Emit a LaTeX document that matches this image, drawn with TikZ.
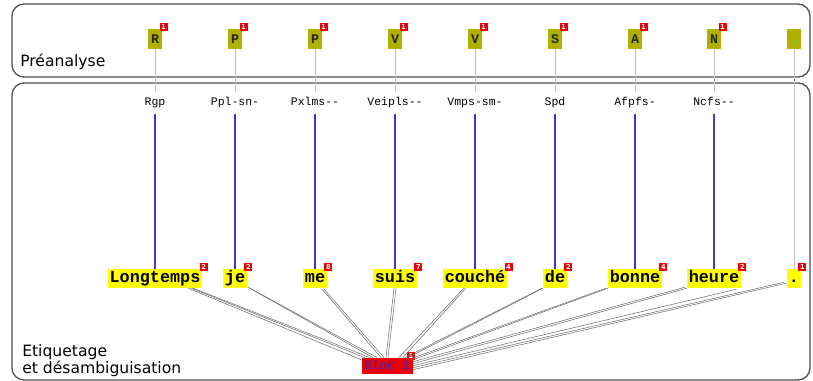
\documentclass[tikz,border=0pt]{standalone}
\usepackage{fontspec}
\setmainfont{DejaVu Sans}
\newfontfamily\monofont{Liberation Mono}
\usetikzlibrary{calc}
\definecolor{tagolive}{RGB}{176,176,0}
\definecolor{panelline}{RGB}{80,80,80}
\definecolor{uplinegray}{RGB}{195,195,195}
\definecolor{linkblue}{RGB}{60,60,200}
\definecolor{fangray}{RGB}{110,110,110}
\definecolor{wordyellow}{RGB}{255,255,0}
\definecolor{badgered}{RGB}{235,0,0}
\definecolor{bloctext}{RGB}{40,40,220}
\begin{document}
\begin{tikzpicture}[x=0.75pt,y=-0.75pt,
  panel/.style={draw=panelline,line width=1pt,rounded corners=9pt},
  tagbox/.style={fill=tagolive,minimum width=10.5pt,minimum height=15pt,inner sep=0pt,text height=6.5pt,text depth=0pt,text=black!85,font=\monofont\bfseries\fontsize{10}{10}\selectfont},
  badge/.style={fill=badgered,text=white,minimum size=6pt,inner sep=0pt,anchor=south west,font=\bfseries\fontsize{5}{5}\selectfont},
  codelab/.style={minimum height=15.75pt,inner sep=0pt,text height=6pt,text depth=1.8pt,font=\monofont\fontsize{8.6}{9}\selectfont},
  word/.style={fill=wordyellow,minimum height=14.25pt,inner xsep=1.3pt,inner ysep=0pt,text height=8.5pt,text depth=2.5pt,font=\monofont\bfseries\fontsize{12.6}{13}\selectfont},
  upline/.style={draw=uplinegray,line width=0.75pt},
  bluelink/.style={draw=linkblue,line width=0.85pt},
  fanline/.style={draw=fangray,line width=0.4pt},
  panellabel/.style={inner sep=0pt,align=left,font=\fontsize{11.7}{11.4}\selectfont},
  blocbox/.style={fill=badgered,minimum width=38.25pt,minimum height=12pt,inner sep=0pt,text height=6.5pt,text depth=1.5pt,text=bloctext,font=\monofont\fontsize{9.4}{10}\selectfont}
]
\useasboundingbox (0,0) rectangle (813,381);

% panels
\draw[panel] (12,4) rectangle (810,77);
\draw[panel] (12,83) rectangle (810,380);
\node[panellabel,anchor=base west] (pre) at (20,67) {Préanalyse};
\node[panellabel,anchor=south west] (eti) at (22,377.5) {Etiquetage\\et désambiguisation};

% columns
\foreach \i/\x/\t/\l/\w/\n in {1/155/R/Rgp/Longtemps/2, 2/235/P/Ppl-sn-/je/2, 3/315/P/Pxlms--/me/8, 4/395/V/Veipls--/suis/7, 5/475/V/Vmps-sm-/couché/4, 6/555/S/Spd/de/2, 7/635/A/Afpfs-/bonne/4, 8/714/N/Ncfs--/heure/2}{
  \node[tagbox] (t\i) at (\x,39) {\t};
  \node[badge] (tb\i) at ($(t\i.north east)+(-3,3)$) {1};
  \node[codelab] (l\i) at (\x,103) {\l};
  \node[word] (w\i) at (\x,278.5) {\w};
  \node[badge] (wb\i) at ($(w\i.north east)+(-3,3)$) {\n};
  \draw[upline] (t\i.south) -- (l\i.north);
  \draw[bluelink] (l\i.south) -- (w\i.north);
}
\node[tagbox,text={rgb,255:red,60;green,200;blue,160}] (t9) at (794,39) {.};
\node[word] (w9) at (794,278.5) {.};
\node[badge] (wb9) at ($(w9.north east)+(-3,3)$) {1};
\draw[upline] (t9.south) -- (w9.north);

% block
\node[blocbox] (bloc) at (387,366) {Bloc 1};
\node[badge] (blocb) at ($(bloc.north east)+(-6,3)$) {1};

% fan lines
\draw[fanline] ($(w1.south east)+(-14,0)$) -- ($(bloc.north west)+(0,2)$);
\draw[fanline] ($(w1.south east)+(-11,0)$) -- ($(bloc.north west)+(4,0)$);
\draw[fanline] ($(w1.south east)+(-9,0)$) -- ($(bloc.north west)+(9,0)$);
\draw[fanline] ($(w2.south east)+(1,-1)$) -- ($(bloc.north west)+(12,0)$);
\draw[fanline] ($(w2.south east)+(3,0)$) -- ($(bloc.north west)+(16,0)$);
\draw[fanline] ($(w3.south east)+(-5,1)$) -- ($(bloc.north west)+(20,0)$);
\draw[fanline] ($(w3.south east)+(-3,1)$) -- ($(bloc.north west)+(23,0)$);
\draw[fanline] ($(w4.south)+(-1,0)$) -- ($(bloc.north)+(-1,0)$);
\draw[fanline] ($(w4.south)+(1,0)$) -- ($(bloc.north)+(1,0)$);
\draw[fanline] ($(w5.south west)+(21,0)$) -- ($(bloc.north east)+(-14,0)$);
\draw[fanline] ($(w5.south west)+(23,0)$) -- ($(bloc.north east)+(-10,0)$);
\draw[fanline] ($(w6.south west)+(-1,0)$) -- ($(bloc.north east)+(-8,0)$);
\draw[fanline] ($(w6.south west)+(0,0)$) -- ($(bloc.north east)+(-5,0)$);
\draw[fanline] ($(w7.south west)+(-2,0)$) -- ($(bloc.north east)+(-2,1)$);
\draw[fanline] ($(w7.south west)+(0,0)$) -- ($(bloc.north east)+(0,2)$);
\draw[fanline] ($(w8.south west)+(-2,-1)$) -- ($(bloc.north east)+(0,4)$);
\draw[fanline] ($(w8.south west)+(0,0)$) -- ($(bloc.north east)+(0,6)$);
\draw[fanline] ($(w8.south east)+(-5,1)$) -- ($(bloc.north east)+(0,8)$);
\draw[fanline] ($(w9.south west)+(-3,-6)$) -- ($(bloc.north east)+(0,10)$);
\draw[fanline] ($(w9.south west)+(-1,-5)$) -- ($(bloc.north east)+(0,12)$);
\end{tikzpicture}
\end{document}
